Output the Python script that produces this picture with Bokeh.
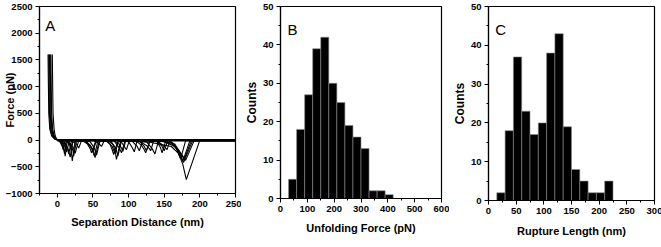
from bokeh.plotting import figure
from bokeh.layouts import row
from bokeh.models import Range1d, SingleIntervalTicker, Label
from bokeh.embed import file_html
from bokeh.resources import INLINE

# ---------------- Panel A: force curves ----------------
curve1_x = [-13, -12.5, -12, -10.5, -8, -4, 0, 6, 9, 11, 14, 17, 19.5, 21, 25, 38, 45, 50, 53, 59, 72, 78, 81, 83, 89, 100, 130, 160, 170, 176, 181, 200, 250]
curve1_y = [1600, 1000, 500, 200, 80, 20, 0, -30, -120, -300, -20, -80, -200, -390, -20, -20, -80, -180, -330, -10, -20, -80, -200, -360, -10, -20, -40, -120, -250, -450, -740, 0, -10]
curve2_x = [-11, -10.5, -10, -8.5, -6, -3, 1, 10, 14, 16, 20, 35, 42, 46, 48, 54, 68, 74, 77, 79, 85, 90, 94, 97, 101, 110, 118, 122, 124, 130, 150, 165, 172, 177, 190, 250]
curve2_y = [1600, 1000, 500, 200, 80, 20, 0, -40, -140, -260, -10, -10, -70, -160, -240, -10, -10, -80, -180, -270, -20, -40, -120, -180, -10, -10, -100, -180, -240, -10, -30, -120, -250, -420, -10, -10]
curve3_x = [-9, -8.5, -8, -6.5, -4.5, -2, 1, 4, 7, 8, 11, 18, 23, 25, 30, 50, 57, 60, 62, 66, 80, 87, 90, 92, 96, 115, 125, 129, 131, 135, 140, 145, 147, 152, 160, 170, 176, 186, 250]
curve3_y = [1600, 1000, 500, 200, 80, 20, 0, -40, -120, -180, -10, -60, -150, -250, -10, -10, -50, -90, -120, -10, -10, -80, -150, -210, -10, -20, -100, -160, -200, -20, -30, -150, -240, -20, -60, -200, -400, -10, -10]
curve4_x = [-7, -6.5, -6, -4.5, -3, -1, 2, 8, 11, 13, 17, 26, 29, 30, 34, 46, 52, 55, 60, 75, 82, 85, 90, 105, 112, 115, 120, 142, 150, 154, 158, 165, 170, 173, 180, 250]
curve4_y = [1600, 1000, 500, 200, 80, 20, 0, -50, -130, -220, -10, -60, -120, -150, -10, -30, -150, -280, -10, -20, -150, -300, -10, -20, -120, -200, -10, -30, -120, -180, -10, -100, -250, -350, -10, -10]
curve5_x = [-12, -11.5, -11, -9.5, -7, -3.5, 0, 10, 15, 18, 22, 40, 47, 50, 55, 70, 77, 81, 86, 100, 105, 108, 112, 125, 133, 137, 142, 160, 170, 175, 180, 192, 250]
curve5_y = [1600, 1000, 500, 200, 80, 20, 0, -40, -160, -320, -10, -20, -120, -200, -10, -20, -120, -250, -10, -30, -140, -220, -10, -30, -160, -260, -10, -60, -180, -280, -380, -10, -10]
curve6_x = [-10, -9.5, -9, -7.5, -5, -2.5, 1, 6, 9, 10, 13, 19, 22, 23, 27, 40, 48, 52, 57, 80, 87, 90, 95, 115, 122, 125, 130, 140, 147, 150, 155, 165, 173, 178, 188, 250]
curve6_y = [1600, 1000, 500, 200, 80, 20, 0, -60, -180, -250, -10, -80, -200, -300, -10, -20, -150, -300, -10, -20, -150, -240, -10, -20, -120, -200, -10, -20, -120, -200, -10, -80, -250, -360, -10, -10]
baseline_x = [0, 250]
baseline_y = [-5, -5]

# ---------------- Panel B: unfolding force histogram ----------------
force_edges = [30, 60, 90, 120, 150, 180, 210, 240, 270, 300, 330, 360, 390, 420]
force_counts = [5, 18, 27, 39, 42, 30, 25, 19, 16, 13, 2, 2, 1]

# ---------------- Panel C: rupture length histogram ----------------
length_edges = [15, 30, 45, 60, 75, 90, 105, 120, 135, 150, 165, 180, 195, 210, 225]
length_counts = [2, 18, 37, 23, 17, 20, 38, 43, 19, 8, 5, 2, 2, 5]

SANS = "Liberation Sans"


def style(p, xlabel, ylabel, xint, yint, ylab_size, ylab_standoff, xlab_standoff):
    p.xaxis.ticker = SingleIntervalTicker(interval=xint, num_minor_ticks=2)
    p.yaxis.ticker = SingleIntervalTicker(interval=yint, num_minor_ticks=2)
    p.xgrid.visible = False
    p.ygrid.visible = False
    p.outline_line_color = "black"
    p.outline_line_width = 1.2
    for ax in (p.xaxis[0], p.yaxis[0]):
        ax.axis_line_color = "black"
        ax.axis_line_width = 1.2
        ax.major_tick_line_color = "black"
        ax.minor_tick_line_color = "black"
        ax.major_tick_in = 0
        ax.major_tick_out = 4
        ax.minor_tick_in = 0
        ax.minor_tick_out = 2
        ax.major_label_text_font = SANS
        ax.major_label_text_font_style = "bold"
        ax.major_label_text_font_size = "9.5px"
        ax.major_label_text_color = "black"
        ax.major_label_standoff = 3
        ax.axis_label_text_font = SANS
        ax.axis_label_text_font_style = "bold"
        ax.axis_label_text_color = "black"
    p.xaxis.axis_label = xlabel
    p.xaxis.axis_label_text_font_size = "11px"
    p.xaxis.axis_label_standoff = xlab_standoff
    p.yaxis.axis_label = ylabel
    p.yaxis.axis_label_text_font_size = ylab_size
    p.yaxis.axis_label_standoff = ylab_standoff


# Panel A
pA = figure(frame_width=196, frame_height=187, output_backend="svg", toolbar_location=None,
            x_range=Range1d(-25, 250), y_range=Range1d(-1000, 2500))
pA.min_border_left = 34
pA.min_border_right = 6
pA.min_border_top = 6
pA.min_border_bottom = 36
for cx, cy in [(curve1_x, curve1_y), (curve2_x, curve2_y), (curve3_x, curve3_y),
               (curve4_x, curve4_y), (curve5_x, curve5_y), (curve6_x, curve6_y)]:
    pA.line(cx, cy, line_color="black", line_width=1.1)
pA.line(baseline_x, baseline_y, line_color="black", line_width=2.5)
style(pA, "Separation Distance (nm)", "Force (pN)", 50, 500, "11px", -13, 6)
pA.add_layout(Label(x=-17, y=2150, text="A", text_font=SANS, text_font_size="15px",
                    text_color="black", text_baseline="alphabetic"))

# Panel B
pB = figure(frame_width=161, frame_height=192, output_backend="svg", toolbar_location=None,
            x_range=Range1d(0, 600), y_range=Range1d(0, 50))
pB.min_border_left = 36
pB.min_border_right = 8
pB.min_border_top = 5
pB.min_border_bottom = 40
pB.quad(left=force_edges[:-1], right=force_edges[1:], bottom=0, top=force_counts,
        fill_color="black", line_color="#8a8a8a", line_width=0.6)
style(pB, "Unfolding Force (pN)", "Counts", 100, 10, "12px", 1, 7)
pB.add_layout(Label(x=26, y=44, text="B", text_font=SANS, text_font_size="15px",
                    text_color="black", text_baseline="alphabetic"))

# Panel C
pC = figure(frame_width=166, frame_height=194, output_backend="svg", toolbar_location=None,
            x_range=Range1d(0, 300), y_range=Range1d(0, 50))
pC.min_border_left = 33
pC.min_border_right = 8
pC.min_border_top = 5
pC.min_border_bottom = 40
pC.quad(left=length_edges[:-1], right=length_edges[1:], bottom=0, top=length_counts,
        fill_color="black", line_color="#8a8a8a", line_width=0.6)
style(pC, "Rupture Length (nm)", "Counts", 50, 10, "12px", 1, 8)
pC.add_layout(Label(x=12, y=44, text="C", text_font=SANS, text_font_size="15px",
                    text_color="black", text_baseline="alphabetic"))

layout = row(pA, pB, pC)
open("out.html", "w").write(file_html(layout, INLINE))
